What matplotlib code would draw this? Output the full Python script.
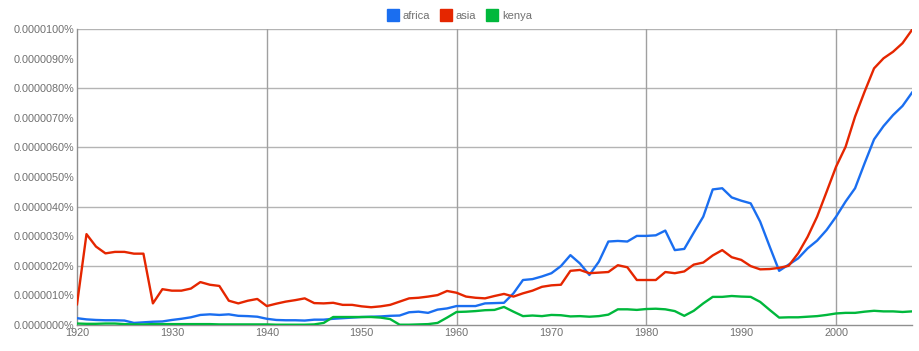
import matplotlib
matplotlib.use("Agg")
import matplotlib.pyplot as plt
from matplotlib.lines import Line2D
from matplotlib.ticker import FuncFormatter, MultipleLocator

plt.rcParams["font.family"] = ["Liberation Sans", "DejaVu Sans"]

years = list(range(1920, 2009))

# values in units of 0.0000001 % (i.e. 1.0 -> 0.0000010%)
africa = [0.23, 0.19, 0.17, 0.16, 0.16, 0.15, 0.07, 0.09, 0.11, 0.12,
          0.17, 0.21, 0.26, 0.34, 0.36, 0.34, 0.36, 0.31, 0.30, 0.28,
          0.21, 0.17, 0.16, 0.16, 0.15, 0.18, 0.18, 0.21, 0.23, 0.25,
          0.27, 0.28, 0.29, 0.31, 0.32, 0.43, 0.45, 0.41, 0.52, 0.56,
          0.64, 0.64, 0.64, 0.73, 0.74, 0.75, 1.07, 1.52, 1.55, 1.64,
          1.75, 1.99, 2.36, 2.08, 1.69, 2.14, 2.82, 2.84, 2.82, 3.01,
          3.01, 3.03, 3.19, 2.53, 2.57, 3.12, 3.66, 4.58, 4.62, 4.31,
          4.20, 4.11, 3.49, 2.65, 1.83, 2.04, 2.25, 2.59, 2.85, 3.21,
          3.66, 4.17, 4.62, 5.46, 6.27, 6.72, 7.09, 7.40, 7.85]

asia = [0.70, 3.07, 2.65, 2.42, 2.47, 2.47, 2.41, 2.41, 0.73, 1.21,
        1.16, 1.16, 1.23, 1.45, 1.36, 1.32, 0.82, 0.73, 0.82, 0.88,
        0.64, 0.72, 0.79, 0.84, 0.90, 0.74, 0.73, 0.75, 0.68, 0.68,
        0.63, 0.60, 0.63, 0.68, 0.79, 0.90, 0.92, 0.96, 1.01, 1.15,
        1.09, 0.96, 0.92, 0.90, 0.98, 1.05, 0.96, 1.07, 1.16, 1.29,
        1.34, 1.36, 1.83, 1.86, 1.75, 1.77, 1.79, 2.02, 1.95, 1.52,
        1.52, 1.52, 1.79, 1.75, 1.81, 2.04, 2.11, 2.35, 2.53, 2.29,
        2.20, 1.99, 1.88, 1.89, 1.93, 2.00, 2.42, 2.98, 3.66, 4.50,
        5.35, 6.02, 7.04, 7.88, 8.67, 9.01, 9.23, 9.52, 9.97]

kenya = [0.05, 0.04, 0.04, 0.05, 0.05, 0.03, 0.02, 0.02, 0.03, 0.03,
         0.03, 0.03, 0.03, 0.03, 0.03, 0.02, 0.02, 0.02, 0.02, 0.02,
         0.02, 0.01, 0.01, 0.01, 0.01, 0.02, 0.07, 0.27, 0.27, 0.27,
         0.27, 0.27, 0.25, 0.20, 0.01, 0.01, 0.02, 0.03, 0.07, 0.25,
         0.44, 0.45, 0.47, 0.50, 0.51, 0.61, 0.45, 0.30, 0.32, 0.30,
         0.34, 0.33, 0.29, 0.30, 0.28, 0.30, 0.35, 0.53, 0.53, 0.51,
         0.54, 0.55, 0.53, 0.47, 0.31, 0.48, 0.73, 0.95, 0.95, 0.98,
         0.96, 0.95, 0.78, 0.51, 0.25, 0.26, 0.26, 0.28, 0.30, 0.34,
         0.39, 0.41, 0.41, 0.45, 0.48, 0.46, 0.46, 0.44, 0.46]

series_names = ["africa", "asia", "kenya"]
colors = ["#1a6ef0", "#e52600", "#00b83c"]
grid_y = [2, 4, 6, 8, 10]
grid_x = [1940, 1960, 1980, 2000]

W, H = 920, 351
fig = plt.figure(figsize=(W / 100, H / 100), dpi=100)
ax = fig.add_axes([77 / W, (H - 325) / H, (912 - 77) / W, (325 - 29) / H])
ax.grid(False)

for name, vals, c in zip(series_names, [africa, asia, kenya], colors):
    ax.plot(years, vals, color=c, lw=1.7, label=name, solid_joinstyle="round", zorder=3)

ax.set_xlim(1920, 2008)
ax.set_ylim(0, 10)

ax.yaxis.set_major_locator(MultipleLocator(1))
ax.yaxis.set_major_formatter(FuncFormatter(lambda v, p: f"{v * 1e-6:.7f}%"))
ax.xaxis.set_major_locator(MultipleLocator(10))
ax.xaxis.set_major_formatter(FuncFormatter(lambda v, p: f"{int(round(v))}"))

for yv in grid_y:
    ax.axhline(yv, color="#b4b4b4", lw=1, zorder=1)
for xv in grid_x:
    ax.axvline(xv, color="#a0a0a0", lw=1, zorder=1)

for s in ["top", "right"]:
    ax.spines[s].set_visible(False)
for s in ["left", "bottom"]:
    ax.spines[s].set_color("#909090")
    ax.spines[s].set_linewidth(1)

ax.tick_params(axis="both", length=0, labelsize=7.8, labelcolor="#707070")
ax.tick_params(axis="y", pad=2)
ax.tick_params(axis="x", pad=2)

handles = [Line2D([], [], marker="s", linestyle="none", markersize=8.5,
                  markerfacecolor=c, markeredgecolor=c) for c in colors]
leg = fig.legend(handles, series_names, loc="center", bbox_to_anchor=(0.5, 1 - 16 / H),
                 ncol=3, frameon=False, fontsize=8.0, handlelength=0.9,
                 handletextpad=0.4, columnspacing=1.0)
for t in leg.get_texts():
    t.set_color("#707070")

fig.savefig("out.png", dpi=100)
